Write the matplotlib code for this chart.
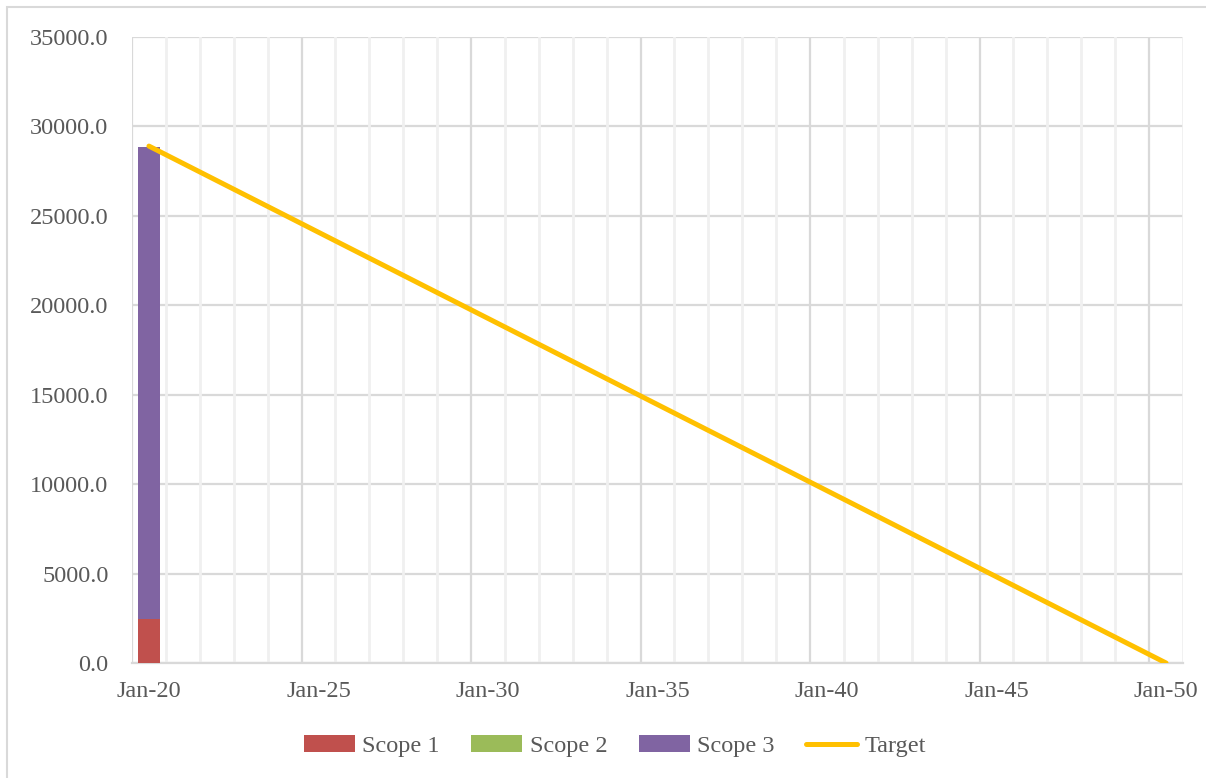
import numpy as np
import matplotlib
matplotlib.use('Agg')
import matplotlib.pyplot as plt
from matplotlib.patches import Rectangle

# emissions data
years = ['Jan-%02d' % y for y in range(20, 51)]
scope1 = [2440] + [0] * 30
scope2 = [40] + [0] * 30
scope3 = [26370] + [0] * 30
target = [28900, 27937, 26973, 26010, 25047, 24083, 23120, 22157, 21193, 20230,
          19267, 18303, 17340, 16377, 15413, 14450, 13487, 12523, 11560, 10597,
          9633, 8670, 7707, 6743, 5780, 4817, 3853, 2890, 1927, 963, 0]

text_col = '#595959'
plt.rcParams['font.family'] = ['Liberation Serif', 'DejaVu Serif']
plt.rcParams['font.size'] = 17.5

fig = plt.figure(figsize=(12.06, 7.78), dpi=100)
ax = fig.add_axes([132 / 1206, 1 - 663 / 778, (1183 - 132) / 1206, (663 - 37) / 778])

# chart area border (only top/left visible in the reference)
fig.patches.append(Rectangle((7 / 1206, -0.1), 1.2, 1 - 7 / 778 + 0.1,
                             transform=fig.transFigure, fill=False,
                             edgecolor='#d9d9d9', linewidth=1.5, zorder=0))

x = np.arange(len(years))
s1 = np.array(scope1)
s2 = np.array(scope2)
s3 = np.array(scope3)

b1 = ax.bar(x, s1, width=0.67, color='#C0504D', label='Scope 1', zorder=3)
b2 = ax.bar(x, s2, width=0.67, bottom=s1, color='#9BBB59', label='Scope 2', zorder=3)
b3 = ax.bar(x, s3, width=0.67, bottom=s1 + s2, color='#8064A2', label='Scope 3', zorder=3)
ln, = ax.plot(x, target, color='#FFC000', linewidth=3.6, solid_capstyle='round',
              label='Target', zorder=4)

ax.set_xlim(-0.5, len(years) - 0.5)
ax.set_ylim(0, 35000)

# gridlines: light ones between every category, darker every 5
for b in np.arange(-0.5, len(years), 1):
    if (b + 0.5) % 5 == 0:
        ax.axvline(b, color='#d9d9d9', linewidth=1.6, zorder=1)
    else:
        ax.axvline(b, color='#f0f0f0', linewidth=2.0, zorder=1)
ax.set_yticks(np.arange(0, 35001, 5000))
ax.yaxis.grid(True, color='#d9d9d9', linewidth=1.6, zorder=1)
ax.set_axisbelow(True)

ax.set_xticks(x[::5])
ax.set_xticklabels(years[::5])
ax.set_yticklabels(['%.1f' % v for v in np.arange(0, 35001, 5000)])
ax.tick_params(axis='both', length=0, colors=text_col)
ax.tick_params(axis='x', pad=13)
ax.tick_params(axis='y', pad=17)

for s in ['top', 'right', 'left']:
    ax.spines[s].set_visible(False)
ax.spines['bottom'].set_color('#d9d9d9')
ax.spines['bottom'].set_linewidth(1.6)

leg = fig.legend([b1, b2, b3, ln], ['Scope 1', 'Scope 2', 'Scope 3', 'Target'],
                 loc='center', bbox_to_anchor=(615 / 1206, 32 / 778), ncol=4,
                 frameon=False, handlelength=2.1, handletextpad=0.3,
                 columnspacing=1.3, fontsize=17.5)
for t in leg.get_texts():
    t.set_color(text_col)

plt.savefig('out.png', dpi=100)
